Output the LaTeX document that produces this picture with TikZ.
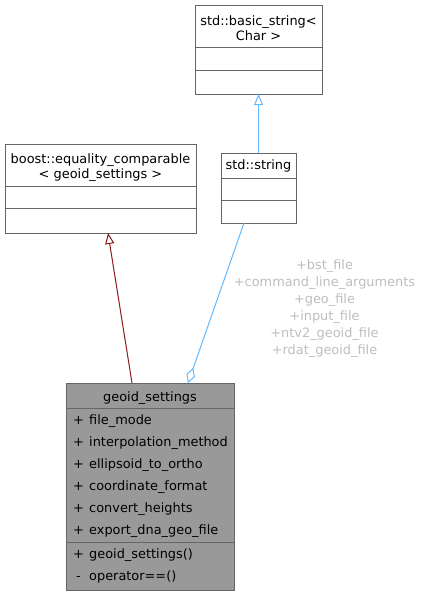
\documentclass[tikz,border=0pt]{standalone}
\usepackage{fontspec}
\setmainfont{DejaVu Sans}
\usetikzlibrary{arrows.meta}
\definecolor{edgeblue}{HTML}{63B8FF}
\definecolor{edgered}{HTML}{8B1A1A}
\definecolor{boxline}{HTML}{666666}
\definecolor{boxfill}{HTML}{999999}
\definecolor{lblgray}{HTML}{BEBEBE}
\begin{document}
\begin{tikzpicture}[x=1pt,y=-1pt,
  font=\fontsize{12.9}{16}\selectfont,
  cls/.style={draw=boxline, line width=1pt, fill=white, anchor=north west, inner sep=0pt, outer sep=0pt},
  sep/.style={draw=boxline, line width=1pt},
  txt/.style={inner sep=0pt, anchor=base},
  row/.style={inner sep=0pt, anchor=base west},
  elabel/.style={inner sep=0pt, anchor=base, text=lblgray},
  inh/.style={line width=1pt, -{Triangle[open,length=11pt,width=9pt]}},
  agg/.style={line width=1pt, -{Diamond[open,length=16pt,width=9pt]}}]
\useasboundingbox (0,0) rectangle (422,595);
% std::basic_string<Char>
\node[cls, minimum width=127pt, minimum height=89pt] (bs) at (195,5) {};
\node[txt] (bst1) at (258.5,25) {std::basic\_string<};
\node[txt] (bst2) at (258.5,40) {Char >};
\draw[sep] (195,47) -- (322,47);
\draw[sep] (195,70) -- (322,70);
% boost::equality_comparable
\node[cls, minimum width=191pt, minimum height=89pt] (bo) at (5,144) {};
\node[txt] (bot1) at (100.5,163) {boost::equality\_comparable};
\node[txt] (bot2) at (100.5,178) {< geoid\_settings >};
\draw[sep] (5,186) -- (196,186);
\draw[sep] (5,208) -- (196,208);
% std::string
\node[cls, minimum width=75pt, minimum height=70pt] (ss) at (221,153) {};
\node[txt] (sst) at (258.5,169) {std::string};
\draw[sep] (221,178) -- (296,178);
\draw[sep] (221,200) -- (296,200);
% geoid_settings
\node[cls, fill=boxfill, minimum width=168pt, minimum height=207pt] (gs) at (66,383) {};
\node[txt] (gst) at (150,401) {geoid\_settings};
\draw[sep] (66,408) -- (234,408);
\draw[sep] (66,542) -- (234,542);
\foreach \n/\y/\m/\t in {a1/424/+/file\_mode, a2/446/+/interpolation\_method, a3/468/+/ellipsoid\_to\_ortho, a4/490/+/coordinate\_format, a5/512/+/convert\_heights, a6/534/+/export\_dna\_geo\_file, m1/558/+/geoid\_settings()}{
  \node[row] (\n m) at (73,\y) {\m};
  \node[row] (\n t) at (89,\y) {\t};
}
\node[row] (m2m) at (76,580) {-};
\node[row] (m2t) at (89,580) {operator==()};
% edge labels
\foreach \n/\y/\t in {l1/269/+bst\_file, l2/286/+command\_line\_arguments, l3/303/+geo\_file, l4/320/+input\_file, l5/337/+ntv2\_geoid\_file, l6/354/+rdat\_geoid\_file}{
  \node[elabel] (\n) at (324.5,\y) {\t};
}
% connector end points
\coordinate (gsA) at (132,383);
\coordinate (boA) at (108,233);
\coordinate (ssTop) at (258.5,153);
\coordinate (bsBot) at (258.5,94);
\coordinate (ssBot) at (244,223);
\coordinate (gsB) at (188,383);
\draw[inh, edgered] (gsA) -- (boA);
\draw[inh, edgeblue] (ssTop) -- (bsBot);
\draw[agg, edgeblue] (ssBot) -- (gsB);
\end{tikzpicture}
\end{document}
